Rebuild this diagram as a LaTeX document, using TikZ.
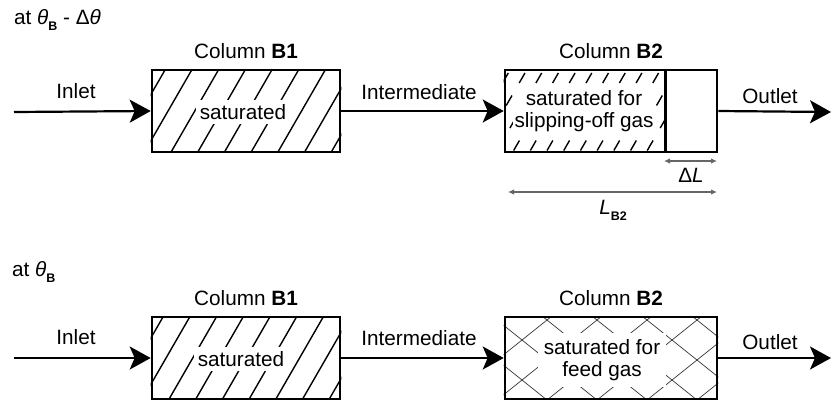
\documentclass[tikz,border=0pt]{standalone}
\usepackage{fontspec}
\setmainfont{Liberation Sans}
\usetikzlibrary{arrows.meta}
\newcommand{\bsub}[1]{\raisebox{-0.55ex}{\fontsize{12.5}{12.5}\selectfont\bfseries #1}}
\tikzset{
  lbl/.style={font=\fontsize{20.8}{23}\selectfont, inner sep=0pt},
  colbox/.style={draw, line width=2.6bp, inner sep=0pt, minimum height=82bp},
  flow/.style={line width=2.2bp, -{Stealth[length=21bp,width=23bp,inset=5bp]}},
  dimarr/.style={draw=black!60, line width=1.1bp, {Latex[length=6bp,width=5.5bp]}-{Latex[length=6bp,width=5.5bp]}},
  hatchln/.style={line width=1.4bp},
  crossln/.style={line width=0.7bp, draw=black!80},
  masktxt/.style={fill=white, align=center, font=\fontsize{20.8}{22.5}\selectfont}
}
\begin{document}
\begin{tikzpicture}[x=1bp,y=-1bp]
\useasboundingbox (0,0) rectangle (832,406);

% ---------------- top row: at theta_B - Delta theta ----------------
\node[lbl, anchor=base west] (h1) at (14,24) {at \textit{θ}\bsub{B} - Δ\textit{θ}};

\node[colbox, minimum width=188bp] (b1) at (246,111) {};
\node[colbox, minimum width=212bp] (b2) at (611,111) {};
\path (b2.north east) ++(-53,0) coordinate (dt);
\path (b2.south east) ++(-53,0) coordinate (db);

% hatch B1
\begin{scope}
  \clip (b1.south west) rectangle (b1.north east);
  \foreach \i in {-1,...,10}
    \draw[hatchln] (91+26.7*\i,152) -- ++(47.3,-82);
\end{scope}
% dashed hatch B2 (saturated part)
\begin{scope}
  \clip (b2.south west) rectangle (dt);
  \foreach \i in {-4,...,11}
    \foreach \yc in {78,100.5,123,145.5}
      \draw[hatchln] ({510+16.7*\i-(\yc+5-70)*0.577},\yc+5) -- ++(5.77,-10);
\end{scope}
\draw[line width=2.6bp] (dt) -- (db);
\node[colbox, minimum width=188bp] at (b1.center) {};
\node[colbox, minimum width=212bp] at (b2.center) {};

\node[masktxt, inner sep=4bp] (s1) at (243,112) {saturated};
\node[masktxt, inner sep=2bp] (s2) at (584,111) {saturated for\\slipping-off gas};

\node[lbl, anchor=base] (c1) at (b1.north |- 0,58) {Column \textbf{B1}};
\node[lbl, anchor=base] (c2) at (b2.north |- 0,58) {Column \textbf{B2}};

\coordinate (in1) at (14,112);
\coordinate (out1) at (831,112);
\draw[flow] (in1) -- (b1.west);
\draw[flow] (b1.east) -- (b2.west);
\draw[flow] (b2.east) -- (out1);
\node[lbl, anchor=base] (l1) at (76,98) {Inlet};
\node[lbl, anchor=base] (l2) at (419,99) {Intermediate};
\node[lbl, anchor=base] (l3) at (770,103) {Outlet};

% dimensions
\coordinate (dl1) at (664,161);
\coordinate (dl2) at (717,161);
\coordinate (dL1) at (508,192);
\coordinate (dL2) at (717,192);
\draw[dimarr] (dl1) -- (dl2);
\draw[dimarr] (dL1) -- (dL2);
\node[lbl, anchor=base] (tdl) at (691,182) {Δ\textit{L}};
\node[lbl, anchor=base] (tdL) at (613,214) {\textit{L}\bsub{B2}};

% ---------------- bottom row: at theta_B ----------------
\node[lbl, anchor=base west] (h2) at (12,276) {at \textit{θ}\bsub{B}};

\node[colbox, minimum width=188bp] (b3) at (246,358) {};
\node[colbox, minimum width=212bp] (b4) at (611,358) {};

\begin{scope}
  \clip (b3.south west) rectangle (b3.north east);
  \foreach \i in {-1,...,10}
    \draw[hatchln] (89+26.7*\i,399) -- ++(47.3,-82);
\end{scope}
\begin{scope}
  \clip (b4.south west) rectangle (b4.north east);
  \foreach \k in {-2,...,7}
    \draw[crossln] (448.25+50*\k,399) -- (550.75+50*\k,317);
  \foreach \k in {-4,...,5}
    \draw[crossln] (543.25+50*\k,317) -- (645.75+50*\k,399);
\end{scope}
\node[colbox, minimum width=188bp] at (b3.center) {};
\node[colbox, minimum width=212bp] at (b4.center) {};

\node[masktxt, inner sep=4bp] (s3) at (241,359) {saturated};
\node[masktxt, inner sep=6bp] (s4) at (602,360) {saturated for\\feed gas};

\node[lbl, anchor=base] (c3) at (b3.north |- 0,305) {Column \textbf{B1}};
\node[lbl, anchor=base] (c4) at (b4.north |- 0,305) {Column \textbf{B2}};

\coordinate (in2) at (14,358);
\coordinate (out2) at (831,358);
\draw[flow] (in2) -- (b3.west);
\draw[flow] (b3.east) -- (b4.west);
\draw[flow] (b4.east) -- (out2);
\node[lbl, anchor=base] (l4) at (76,344) {Inlet};
\node[lbl, anchor=base] (l5) at (419,345) {Intermediate};
\node[lbl, anchor=base] (l6) at (770,349) {Outlet};
\end{tikzpicture}
\end{document}
